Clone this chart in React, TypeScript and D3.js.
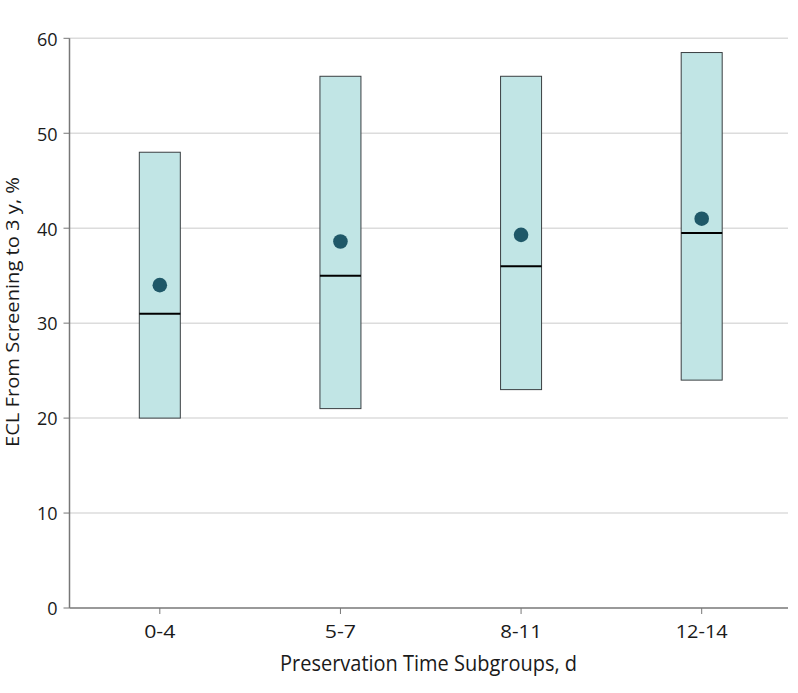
import React from "react";
import * as d3 from "d3";

const categories = ["0-4", "5-7", "8-11", "12-14"];
const lowValues = [20, 21, 23, 24];
const highValues = [48, 56, 56, 58.5];
const medianValues = [31, 35, 36, 39.5];
const meanValues = [34, 38.6, 39.3, 41];
const yTicks = [0, 10, 20, 30, 40, 50, 60];

const W = 798;
const H = 693;
const left = 69.5;
const right = 788;
const top = 38.3;
const bottom = 608;
const font = "'Open Sans', 'Noto Sans', sans-serif";

export default function App() {
  const x = d3.scaleBand<string>().domain(categories).range([left, 792]).paddingInner(0).paddingOuter(0);
  const y = d3.scaleLinear().domain([0, 60]).range([bottom, top]);
  const bw = 41;
  return (
    <svg width={W} height={H} style={{ position: "absolute", left: 0, top: 0 }}>
      <rect width={W} height={H} fill="#fff" />
      {yTicks.filter((t) => t > 0).map((t) => (
        <line key={t} x1={left} x2={right} y1={y(t)} y2={y(t)} stroke="#dcdcdc" strokeWidth={1.5} />
      ))}
      {categories.map((c, i) => {
        const cx = (x(c) as number) + x.bandwidth() / 2;
        return (
          <g key={c}>
            <rect x={cx - bw / 2} y={y(highValues[i])} width={bw} height={y(lowValues[i]) - y(highValues[i])}
              fill="#c1e5e5" stroke="#3a3f42" strokeWidth={1} />
            <line x1={cx - bw / 2} x2={cx + bw / 2} y1={y(medianValues[i])} y2={y(medianValues[i])} stroke="#000" strokeWidth={2} />
            <circle cx={cx} cy={y(meanValues[i])} r={7.3} fill="#1f5868" />
            <line x1={cx} x2={cx} y1={bottom} y2={bottom + 6} stroke="#777" strokeWidth={1} />
            <text x={cx} y={638} textAnchor="middle" fontFamily={font} fontSize={18} fill="#1a1a1a"
              textLength={c.length * 10.4} lengthAdjust="spacingAndGlyphs">{c}</text>
          </g>
        );
      })}
      {yTicks.map((t) => (
        <g key={t}>
          <line x1={left - 6} x2={left} y1={y(t)} y2={y(t)} stroke="#777" strokeWidth={1} />
          <text x={57.5} y={y(t) + 7.3} textAnchor="end" fontFamily={font} fontSize={18} fill="#1a1a1a">{t}</text>
        </g>
      ))}
      <line x1={left} x2={left} y1={top} y2={bottom} stroke="#777" strokeWidth={1.5} />
      <line x1={left} x2={right} y1={bottom} y2={bottom} stroke="#777" strokeWidth={1.5} />
      <text x={428.5} y={670.5} textAnchor="middle" fontFamily={font} fontSize={21} fill="#1a1a1a"
        textLength={297} lengthAdjust="spacingAndGlyphs">Preservation Time Subgroups, d</text>
      <text transform={`translate(19, 312) rotate(-90)`} textAnchor="middle" fontFamily={font} fontSize={19} fill="#1a1a1a"
        textLength={270} lengthAdjust="spacingAndGlyphs">ECL From Screening to 3 y, %</text>
    </svg>
  );
}
